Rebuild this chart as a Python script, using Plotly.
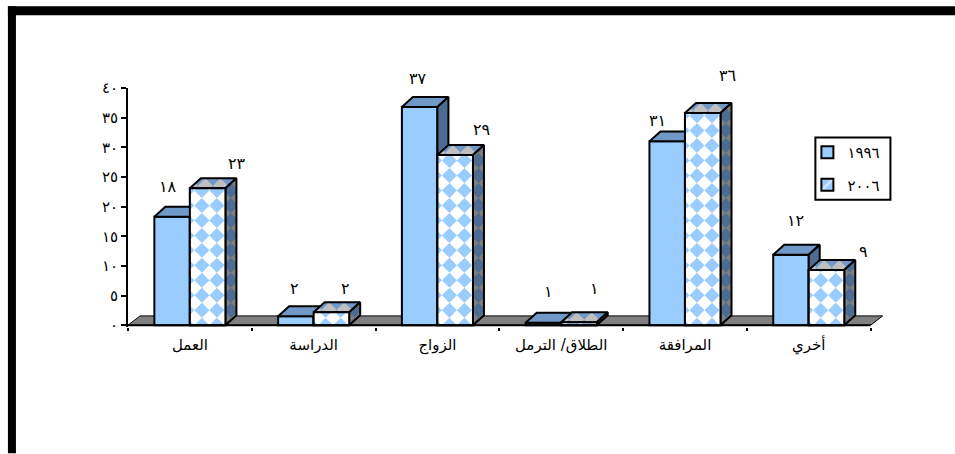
import plotly.graph_objects as go

# ---- data ----
categories = ["العمل", "الدراسة", "الزواج", "الطلاق/ الترمل", "المرافقة", "أخري"]
series_1996_name = "١٩٩٦"
series_2006_name = "٢٠٠٦"
values_1996 = [18.3, 1.5, 36.8, 0.4, 31.0, 11.9]
values_2006 = [23.1, 2.2, 28.7, 0.5, 35.8, 9.3]
labels_1996 = ["١٨", "٢", "٣٧", "١", "٣١", "١٢"]
labels_2006 = ["٢٣", "٢", "٢٩", "١", "٣٦", "٩"]
y_ticks = [0, 5, 10, 15, 20, 25, 30, 35, 40]
y_tick_labels = ["٠", "٥", "١٠", "١٥", "٢٠", "٢٥", "٣٠", "٣٥", "٤٠"]

# ---- label nudges (pixels from the bar's top centre) ----
shift_1996 = [(-4, 30), (-1, 28), (-2, 28), (5, 31), (-10, 21), (5, 34)]
shift_2006 = [(29, 25), (14, 24), (26, 26), (16, 34), (25, 37), (37, 19)]

# ---- geometry ----
L, T, B = 128.0, 88.0, 327.5
CAT_PX = 123.7
PLOT_R = L + CAT_PX * 6.1
W, H = 955, 454
Y_PX = 237.7 / 40
Y_MIN = -(B - T - 237.7) / Y_PX
GROUP_FRAC = 0.574
BAR = GROUP_FRAC / 2
DX, DY = 11.0 / CAT_PX, 10.0 / Y_PX
FLOOR_DX, FLOOR_DY = 12.0 / CAT_PX, 9.3 / Y_PX
STEP = 15.0  # diamond lattice pitch, px
LW = 2.0

BLUE, BLUE_TOP, BLUE_SIDE, GREY_TOP, GREY = "#99CCFF", "#7099C8", "#4D6C91", "#BFBFBF", "#808080"
FONT = "DejaVu Sans"


def clip(poly, x0, x1, y0, y1):
    def cut(p, inside, inter):
        out = []
        for i, a in enumerate(p):
            b = p[(i + 1) % len(p)]
            if inside(a):
                out.append(a)
                if not inside(b):
                    out.append(inter(a, b))
            elif inside(b):
                out.append(inter(a, b))
        return out

    def ix(v):
        return lambda a, b: (v, a[1] + (b[1] - a[1]) * (v - a[0]) / (b[0] - a[0]))

    def iy(v):
        return lambda a, b: (a[0] + (b[0] - a[0]) * (v - a[1]) / (b[1] - a[1]), v)

    for ins, it in [
        (lambda a: a[0] >= x0, ix(x0)),
        (lambda a: a[0] <= x1, ix(x1)),
        (lambda a: a[1] >= y0, iy(y0)),
        (lambda a: a[1] <= y1, iy(y1)),
    ]:
        if poly:
            poly = cut(poly, ins, it)
    return poly


def diamonds(width, height, cx0, cy0, to_face=lambda s, t: (s, t), pad=30):
    """Screen-space diamond tile; each diamond is taken into the face's (u, v) space and clipped."""
    hw = STEP / 2
    out = []
    i = -int(pad / STEP) - 2
    while cx0 + i * STEP < width + pad:
        j = -int(pad / STEP) - 2
        while cy0 + j * STEP < height + pad:
            cx, cy = cx0 + i * STEP, cy0 + j * STEP
            d = [to_face(*q) for q in [(cx - hw, cy), (cx, cy + hw), (cx + hw, cy), (cx, cy - hw)]]
            d = clip(d, 0, width, 0, height)
            if len(d) > 2:
                out.append(d)
            j += 1
        i += 1
    return out


fig = go.Figure()
centers = [i + 0.5 for i in range(len(categories))]

fig.add_bar(x=centers, y=values_1996, name=series_1996_name, legendgroup="a",
            marker=dict(color=BLUE, line=dict(color="black", width=LW)), hoverinfo="skip")
fig.add_bar(x=centers, y=values_2006, name=series_2006_name, legendgroup="b",
            marker=dict(color=BLUE, line=dict(color="black", width=LW),
                        pattern=dict(shape="/", fgcolor="white", bgcolor=BLUE, size=14, solidity=0.35)),
            hoverinfo="skip")


def add_polys(polys, fill=None, line=False):
    xs, ys = [], []
    for p in polys:
        xs += [q[0] for q in p] + [p[0][0], None]
        ys += [q[1] for q in p] + [p[0][1], None]
    fig.add_scatter(x=xs, y=ys, mode="lines", fill="toself" if fill else "none",
                    fillcolor=fill or "rgba(0,0,0,0)",
                    line=dict(color="black" if line else "rgba(0,0,0,0)", width=LW if line else 0),
                    showlegend=False, hoverinfo="skip")


def top_face(x0, v):
    return [(x0, v), (x0 + BAR, v), (x0 + BAR + DX, v + DY), (x0 + DX, v + DY)]


def side_face(x0, v):
    x1 = x0 + BAR
    return [(x1, 0), (x1 + DX, DY), (x1 + DX, v + DY), (x1, v)]


for c, v1, v2 in zip(centers, values_1996, values_2006):
    x1 = c - BAR
    x2 = c
    # 1996 top and side
    add_polys([top_face(x1, v1)], BLUE_TOP, True)
    add_polys([side_face(x1, v1)], BLUE_SIDE, True)

    bw = BAR * CAT_PX
    dpx = DX * CAT_PX
    dpy = DY * Y_PX
    hp = v2 * Y_PX

    # 2006 top
    add_polys([top_face(x2, v2)], GREY_TOP)
    tops = []
    for d in diamonds(bw, dpy, 12 + dpx, dpy, lambda s, t: (s - dpx * t / dpy, t)):
        tops.append([(x2 + (u + dpx * w / dpy) / CAT_PX, v2 + w / Y_PX) for u, w in d])
    add_polys(tops, BLUE_TOP)
    add_polys([top_face(x2, v2)], None, True)

    # 2006 side
    add_polys([side_face(x2, v2)], GREY)
    sides = []
    for d in diamonds(dpx, hp, dpx / 2, 0, lambda s, t: (s, t - dpy * s / dpx)):
        sides.append([(x2 + BAR + u / CAT_PX, (w + dpy * u / dpx) / Y_PX) for u, w in d])
    add_polys(sides, BLUE_SIDE)
    add_polys([side_face(x2, v2)], None, True)

    # 2006 front (sits over the 1996 side)
    front = [(x2, 0), (x2 + BAR, 0), (x2 + BAR, v2), (x2, v2)]
    add_polys([front], "white")
    fr = []
    for d in diamonds(bw, hp, 12, 0):
        fr.append([(x2 + u / CAT_PX, w / Y_PX) for u, w in d])
    add_polys(fr, BLUE)
    add_polys([front], None, True)

# x axis line, only as far as the last category
fig.add_scatter(x=[0, len(categories)], y=[0, 0], mode="lines",
                line=dict(color="black", width=2), showlegend=False, hoverinfo="skip")

annotations = []
for c, vals, labs, shifts, off in [
    (centers, values_1996, labels_1996, shift_1996, -BAR / 2),
    (centers, values_2006, labels_2006, shift_2006, BAR / 2),
]:
    for x, v, t, (sx, sy) in zip(c, vals, labs, shifts):
        annotations.append(dict(x=x + off, y=v, text=t, showarrow=False, xref="x", yref="y",
                                xshift=sx, yshift=sy, yanchor="middle",
                                font=dict(family=FONT, size=16, color="black")))

PW, PH = PLOT_R - L, B - T


def px(x):
    return (x - L) / PW


def py(y):
    return (B - y) / PH


shapes = [
    dict(type="rect", xref="paper", yref="paper", x0=px(8), x1=px(955), y0=py(6), y1=py(15),
         fillcolor="black", line=dict(width=0)),
    dict(type="rect", xref="paper", yref="paper", x0=px(8), x1=px(16), y0=py(6), y1=py(454),
         fillcolor="black", line=dict(width=0)),
    dict(type="path", xref="x", yref="y", layer="below",
         path=f"M0,0 L{FLOOR_DX},{FLOOR_DY} L{6 + FLOOR_DX},{FLOOR_DY} L6,0 Z",
         fillcolor=GREY, line=dict(color="black", width=1)),
    # legend frame
    dict(type="rect", xref="paper", yref="paper", x0=px(815), x1=px(890), y0=py(137.5), y1=py(200),
         fillcolor="white", line=dict(color="black", width=2)),
]

fig.update_layout(
    width=W, height=H, autosize=False,
    margin=dict(l=L, r=W - PLOT_R, t=T, b=H - B, pad=0),
    paper_bgcolor="white", plot_bgcolor="rgba(0,0,0,0)",
    barmode="group", bargap=1 - GROUP_FRAC, bargroupgap=0,
    shapes=shapes, annotations=annotations,
    font=dict(family=FONT, size=15, color="black"),
    legend=dict(x=px(807), y=py(136), xanchor="left", yanchor="top",
                bgcolor="rgba(0,0,0,0)", borderwidth=0,
                tracegroupgap=10, font=dict(size=15), traceorder="grouped"),
    xaxis=dict(range=[0, 6.1], tickmode="array", tickvals=centers, ticktext=categories,
               ticks="", showgrid=False, zeroline=False, showline=False, automargin=False,
               ticklabelstandoff=7,
               minor=dict(tickmode="array", tickvals=list(range(7)), ticks="outside",
                          ticklen=3, tickwidth=1.5, tickcolor="black", showgrid=False),
               tickfont=dict(size=15)),
    yaxis=dict(range=[Y_MIN, 40], tickmode="array", tickvals=y_ticks, ticktext=y_tick_labels,
               ticks="outside", ticklen=5, tickwidth=1.5, tickcolor="black", showgrid=False,
               zeroline=False, showline=True, linecolor="black", linewidth=2, automargin=False,
               tickfont=dict(size=15)),
)

fig.write_html("out.html", config=dict(displayModeBar=False),
               post_script="document.body.style.margin='0';document.body.style.overflow='hidden';")
